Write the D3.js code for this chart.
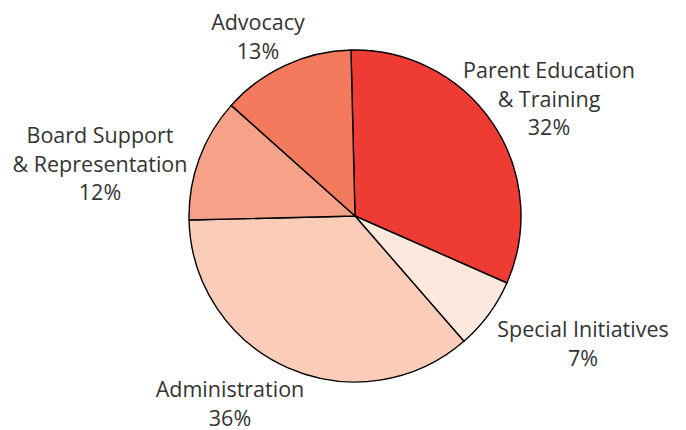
<!DOCTYPE html>
<html>
<head>
<meta charset="utf-8">
<script src="https://cdn.jsdelivr.net/npm/d3@7"></script>
<style>
  html, body { margin: 0; padding: 0; background: #fff; }
  svg { display: block; }
  text { font-family: "Open Sans", "Noto Sans", sans-serif; fill: #333; }
</style>
</head>
<body>
<svg id="chart" width="686" height="430"></svg>
<script>
// Data
const categories = ["Parent Education & Training", "Special Initiatives", "Administration", "Board Support & Representation", "Advocacy"];
const labelLines = [["Parent Education", "& Training"], ["Special Initiatives"], ["Administration"], ["Board Support", "& Representation"], ["Advocacy"]];
const values = [32, 7, 36, 12, 13];
const colors = ["#ee3b33", "#fde8de", "#fbcdb9", "#f6a288", "#f47a5d"];

// Layout (label anchor points, pixel layout not data)
const labelAnchors = [[549, 78], [583, 337], [230, 397], [100, 143], [258, 30]];

const svg = d3.select("#chart");
const cx = 355, cy = 216, r = 166;
const startAngle = -1.4 * Math.PI / 180;

const pie = d3.pie().sort(null).value(d => d)
  .startAngle(startAngle).endAngle(startAngle + 2 * Math.PI);
const arc = d3.arc().innerRadius(0).outerRadius(r);

const g = svg.append("g").attr("transform", `translate(${cx},${cy})`);
g.selectAll("path").data(pie(values)).join("path")
  .attr("d", arc)
  .attr("fill", (d, i) => colors[i])
  .attr("stroke", "#000")
  .attr("stroke-width", 1.4)
  .attr("stroke-linejoin", "round");

const lh = 28.5;
labelLines.forEach((lines, i) => {
  const [x, y] = labelAnchors[i];
  const t = svg.append("text").attr("text-anchor", "middle")
    .attr("font-size", 21.5);
  lines.concat([values[i] + "%"]).forEach((s, j) => {
    t.append("tspan").attr("x", x).attr("y", y + j * lh).text(s);
  });
});
</script>
</body>
</html>
